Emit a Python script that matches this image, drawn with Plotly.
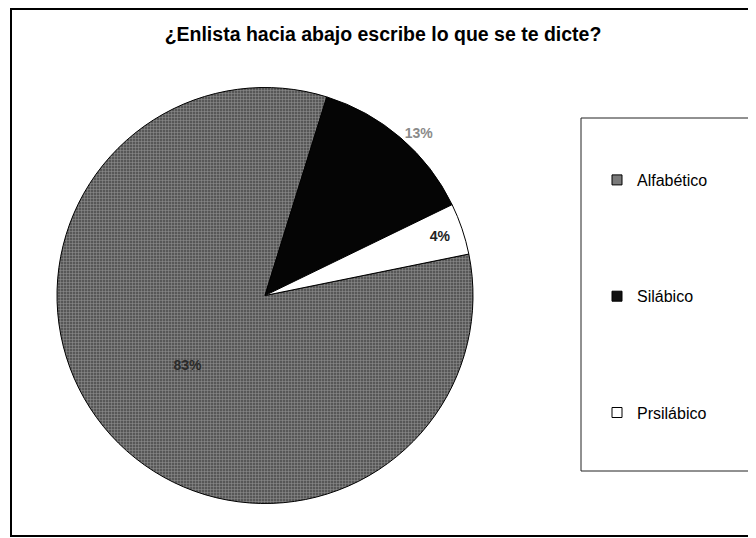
import plotly.graph_objects as go

title = "¿Enlista hacia abajo escribe lo que se te dicte?"
categories = ["Alfabético", "Silábico", "Prsilábico"]
values = [83, 13, 4]

slice_colors = ["#5c5c5c", "#050505", "#ffffff"]
text_colors = ["#2a2a2a", "#8a8a8a", "#222222"]
text_positions = ["inside", "outside", "inside"]

W, H = 756, 538
OFF = 8  # page body margin offset

def px_x(v):
    return (v - OFF) / W

def px_y(v):
    return 1 - (v - OFF) / H

fig = go.Figure()

fig.add_trace(go.Pie(
    labels=categories,
    values=values,
    sort=False,
    direction="clockwise",
    rotation=78.5,
    textinfo="percent",
    texttemplate="%{percent:.0%}",
    textposition=text_positions,
    insidetextorientation="horizontal",
    textfont=dict(family="Liberation Sans, Arial", size=14, color=text_colors, weight="bold"),
    outsidetextfont=dict(family="Liberation Sans, Arial", size=14, color=text_colors, weight="bold"),
    marker=dict(
        colors=slice_colors,
        line=dict(color="#000000", width=1),
        pattern=dict(shape=["+", "", ""], fgcolor="#d4d4d4", bgcolor="#575757",
                     size=3, solidity=0.3, fillmode="overlay"),
    ),
    domain=dict(x=[px_x(57), px_x(473)], y=[px_y(505), px_y(86)]),
    showlegend=False,
    hoverinfo="label+percent",
))

legend_colors = ["#7a7a7a", "#111111", "#ffffff"]
for name, col in zip(categories, legend_colors):
    fig.add_trace(go.Scatter(
        x=[None], y=[None], mode="markers", name=name, legendgroup=name,
        marker=dict(symbol="square", size=10, color=col, line=dict(color="#000000", width=1)),
    ))

fig.update_layout(
    width=W, height=H,
    margin=dict(l=0, r=0, t=0, b=0),
    paper_bgcolor="#ffffff",
    plot_bgcolor="#ffffff",
    title=dict(text="<b>" + title + "</b>", x=px_x(383), xanchor="center",
               y=px_y(34), yanchor="middle", yref="container",
               font=dict(family="Liberation Sans, Arial", size=19.5, color="#000000")),
    xaxis=dict(visible=False),
    yaxis=dict(visible=False),
    legend=dict(x=px_x(597), xanchor="left", y=px_y(163), yanchor="top",
                traceorder="grouped", tracegroupgap=92.5,
                bgcolor="rgba(0,0,0,0)", borderwidth=0,
                font=dict(family="Liberation Sans, Arial", size=16, color="#000000")),
    shapes=[
        dict(type="rect", xref="paper", yref="paper",
             x0=px_x(11), x1=px_x(760), y0=px_y(536), y1=px_y(9),
             line=dict(color="#000000", width=2), layer="below"),
        dict(type="rect", xref="paper", yref="paper",
             x0=px_x(581), x1=px_x(750), y0=px_y(471), y1=px_y(118),
             line=dict(color="#222222", width=1), layer="below"),
    ],
)

fig.write_html("out.html")
